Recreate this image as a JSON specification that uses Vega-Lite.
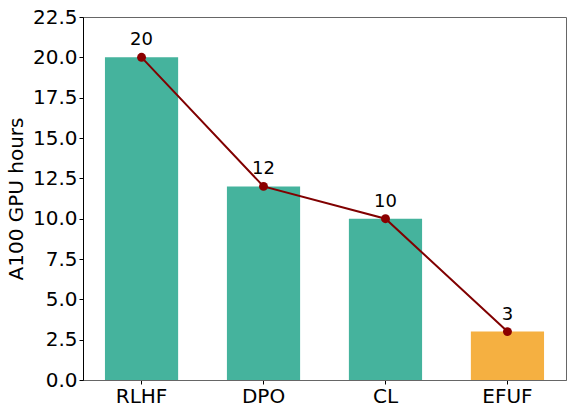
{
  "$schema": "https://vega.github.io/schema/vega-lite/v6.json",
  "width": 483,
  "height": 363,
  "autosize": {"type": "none"},
  "padding": {"left": 83, "top": 17, "right": 1, "bottom": 29},
  "data": {
    "values": [
      {"method": "RLHF", "hours": 20, "group": "baseline"},
      {"method": "DPO", "hours": 12, "group": "baseline"},
      {"method": "CL", "hours": 10, "group": "baseline"},
      {"method": "EFUF", "hours": 3, "group": "ours"}
    ]
  },
  "encoding": {
    "x": {
      "field": "method",
      "type": "nominal",
      "sort": null,
      "scale": {"paddingInner": 0.4, "paddingOuter": 0.18},
      "axis": {"title": null, "labelAngle": 0, "labelFontSize": 20, "labelPadding": 2, "domainColor": "#666"}
    },
    "y": {
      "field": "hours",
      "type": "quantitative",
      "scale": {"domain": [0, 22.5], "nice": false},
      "axis": {
        "title": "A100 GPU hours",
        "titleFontSize": 20,
        "titleFontWeight": "normal",
        "titlePadding": 6,
        "values": [0, 2.5, 5, 7.5, 10, 12.5, 15, 17.5, 20, 22.5],
        "format": ".1f",
        "labelFontSize": 20,
        "labelPadding": 2,
        "domainColor": "black",
        "grid": false
      }
    }
  },
  "layer": [
    {
      "mark": {"type": "bar"},
      "encoding": {
        "color": {
          "field": "group",
          "type": "nominal",
          "scale": {"domain": ["baseline", "ours"], "range": ["#45b39d", "#f5b041"]},
          "legend": null
        }
      }
    },
    {
      "mark": {"type": "line", "color": "#800000", "strokeWidth": 2},
      "encoding": {}
    },
    {
      "mark": {"type": "point", "filled": true, "color": "#8b0000", "size": 80, "opacity": 1},
      "encoding": {}
    },
    {
      "mark": {"type": "text", "dy": -17, "fontSize": 18, "color": "black"},
      "encoding": {"text": {"field": "hours", "type": "quantitative"}}
    }
  ],
  "config": {
    "font": "DejaVu Sans",
    "view": {"stroke": "#666"},
    "axis": {
      "tickColor": "black",
      "tickSize": 4,
      "labelColor": "black",
      "titleColor": "black"
    }
  }
}
